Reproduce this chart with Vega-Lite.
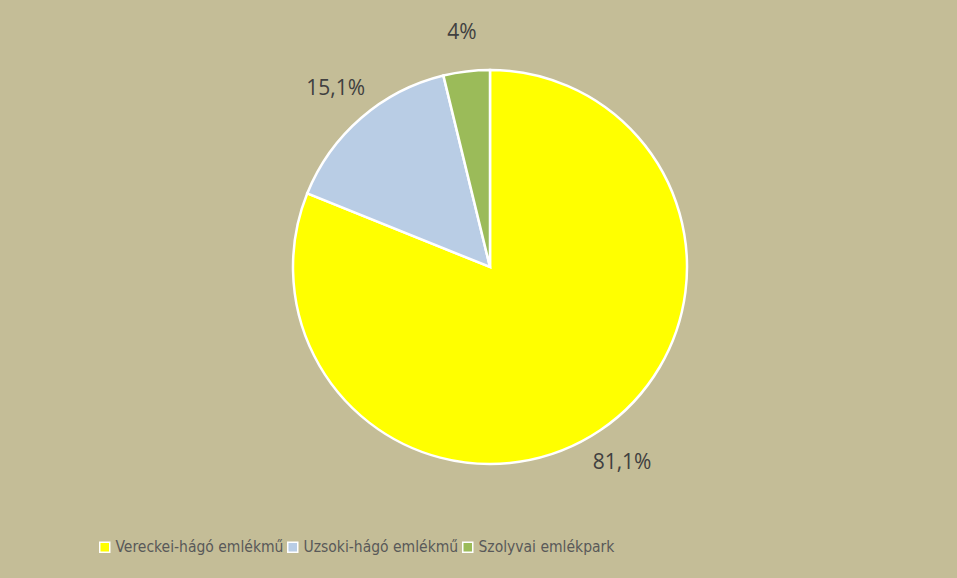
{
  "$schema": "https://vega.github.io/schema/vega-lite/v6.json",
  "width": 394,
  "height": 394,
  "autosize": {"type": "none"},
  "padding": {"left": 293, "top": 70, "right": 270, "bottom": 114},
  "background": "#C4BD97",
  "data": {
    "values": [
      {"name": "Vereckei-hágó emlékmű", "value": 81.1, "label": "81,1%", "order": 1},
      {"name": "Uzsoki-hágó emlékmű", "value": 15.1, "label": "15,1%", "order": 2},
      {"name": "Szolyvai emlékpark", "value": 3.8, "label": "4%", "order": 3}
    ]
  },
  "encoding": {
    "theta": {"field": "value", "type": "quantitative", "stack": true},
    "order": {"field": "order", "type": "quantitative"}
  },
  "layer": [
    {
      "mark": {"type": "arc", "stroke": "white", "strokeWidth": 2.5, "outerRadius": 197},
      "encoding": {
        "color": {
          "field": "name",
          "type": "nominal",
          "scale": {
            "domain": ["Vereckei-hágó emlékmű", "Uzsoki-hágó emlékmű", "Szolyvai emlékpark"],
            "range": ["#FFFF00", "#B9CDE5", "#9BBB59"]
          },
          "legend": {
            "title": null,
            "orient": "none",
            "legendX": -196,
            "legendY": 469,
            "direction": "horizontal",
            "columns": 3
          }
        }
      }
    },
    {
      "mark": {"type": "text", "radius": 236, "fontSize": 21, "font": "Open Sans", "fill": "#404040"},
      "encoding": {
        "detail": {"field": "name", "type": "nominal"},
        "text": {"field": "label", "type": "nominal"}
      }
    }
  ],
  "config": {
    "view": {"stroke": null},
    "legend": {
      "labelFont": "DejaVu Sans Condensed, Roboto, sans-serif",
      "labelFontSize": 15.5,
      "labelLimit": 0,
      "labelColor": "#595959",
      "symbolType": "square",
      "symbolSize": 100,
      "symbolStrokeColor": "white",
      "symbolStrokeWidth": 1.5,
      "symbolOpacity": 1,
      "symbolFillOpacity": 1,
      "labelOffset": 3,
      "columnPadding": 0,
      "padding": 0
    }
  }
}
